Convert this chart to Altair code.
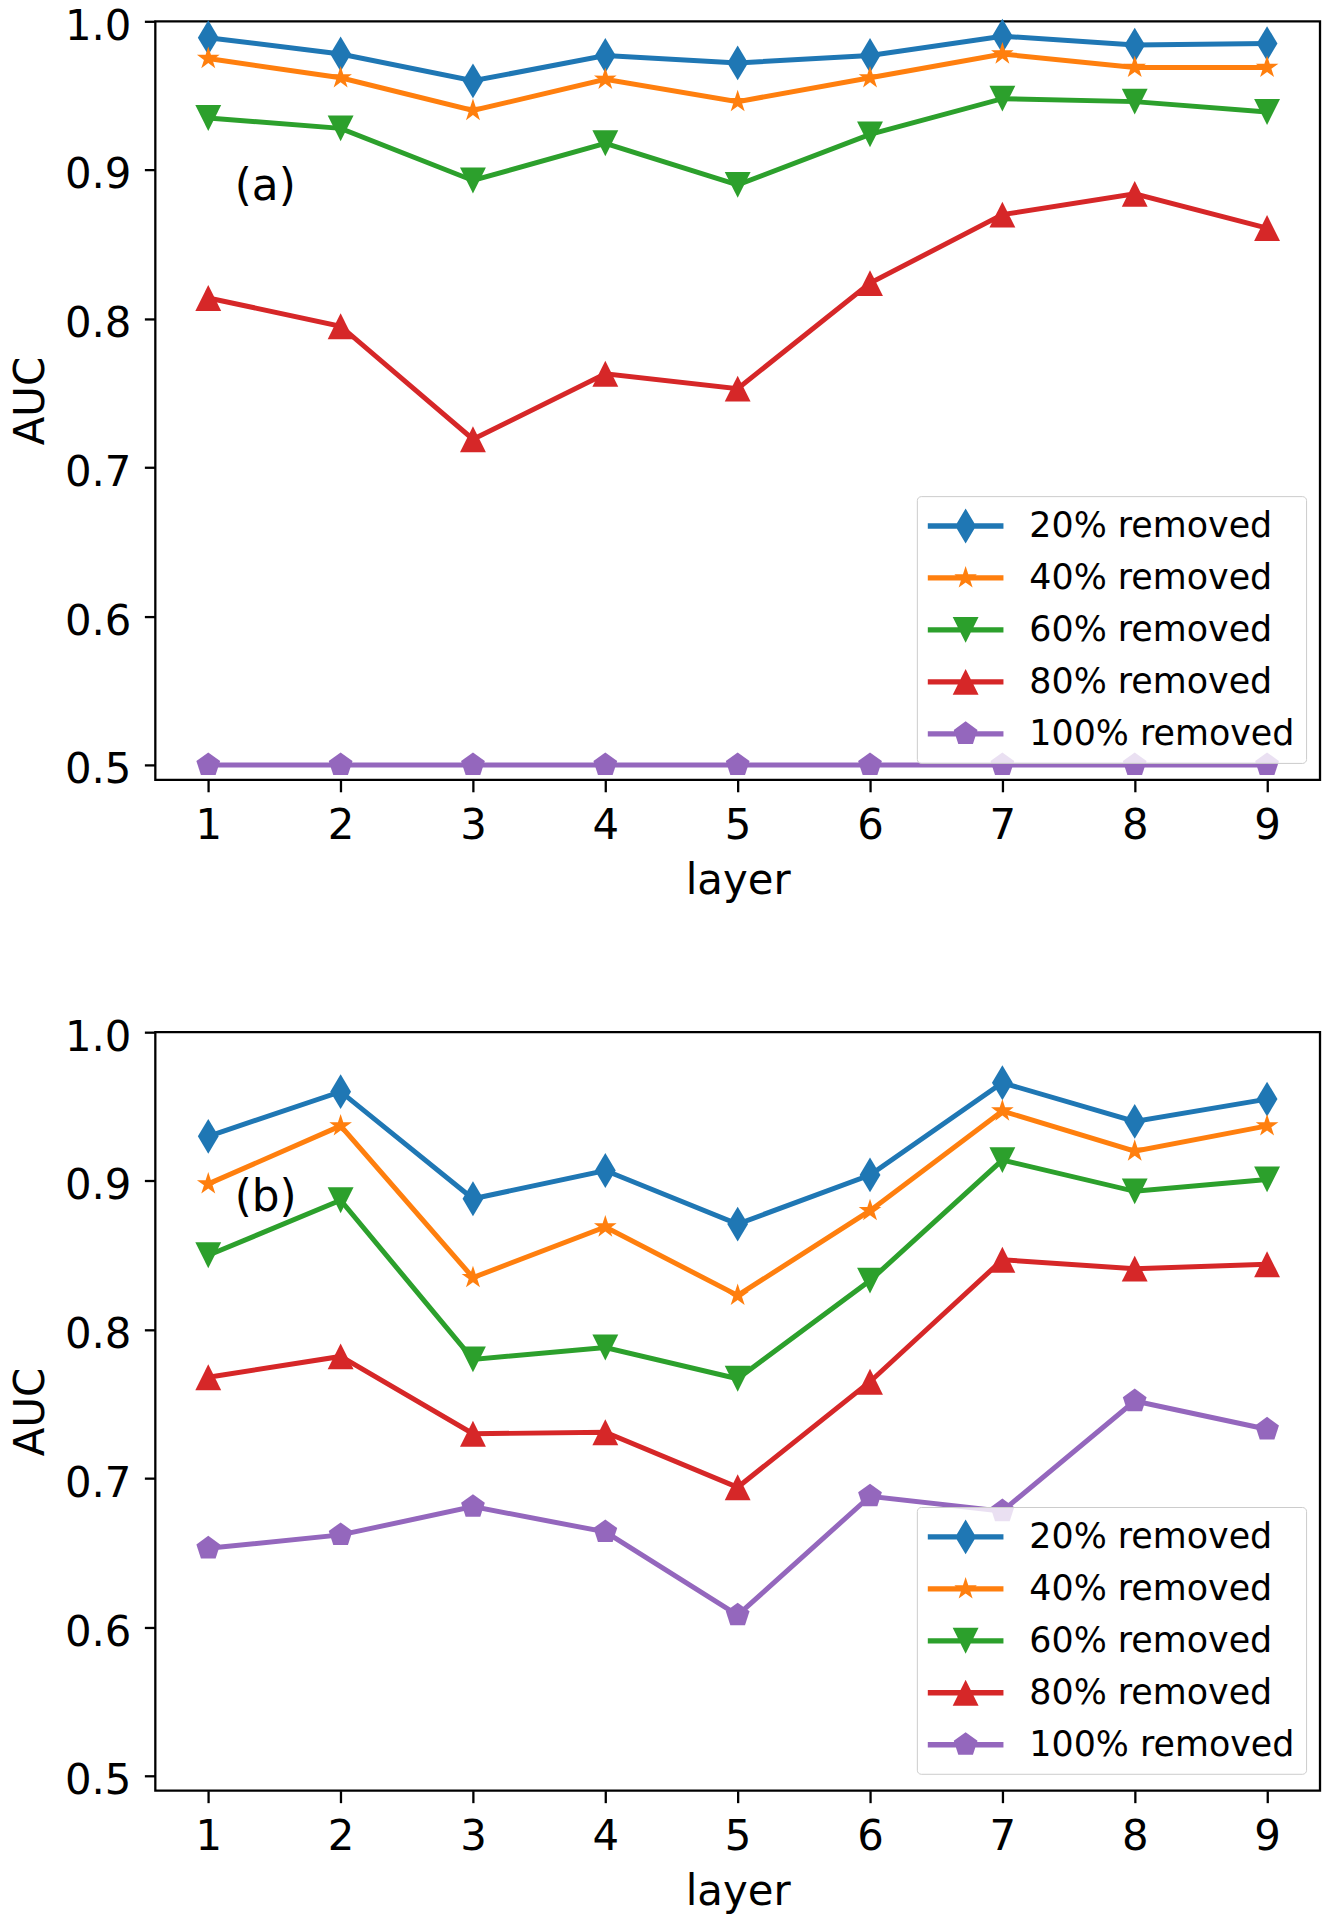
import math
import altair as alt
import pandas as pd

# ---------------- data ----------------
layers = [1, 2, 3, 4, 5, 6, 7, 8, 9]
series_names = ["20% removed", "40% removed", "60% removed", "80% removed", "100% removed"]
colors = ["#1f77b4", "#ff7f0e", "#2ca02c", "#d62728", "#9467bd"]
panel_tags = ["(a)", "(b)"]
y_ticks = [0.5, 0.6, 0.7, 0.8, 0.9, 1.0]

a_20 = [0.989, 0.978, 0.960, 0.977, 0.972, 0.977, 0.990, 0.984, 0.985]
a_40 = [0.975, 0.962, 0.940, 0.961, 0.946, 0.962, 0.978, 0.969, 0.969]
a_60 = [0.935, 0.928, 0.893, 0.918, 0.890, 0.924, 0.948, 0.946, 0.939]
a_80 = [0.814, 0.795, 0.719, 0.763, 0.753, 0.824, 0.870, 0.884, 0.861]
a_100 = [0.500, 0.500, 0.500, 0.500, 0.500, 0.500, 0.500, 0.500, 0.500]

b_20 = [0.930, 0.960, 0.888, 0.907, 0.871, 0.904, 0.966, 0.940, 0.955]
b_40 = [0.898, 0.937, 0.835, 0.869, 0.823, 0.880, 0.947, 0.920, 0.937]
b_60 = [0.850, 0.887, 0.780, 0.788, 0.767, 0.833, 0.914, 0.893, 0.901]
b_80 = [0.768, 0.782, 0.730, 0.731, 0.694, 0.765, 0.847, 0.841, 0.844]
b_100 = [0.653, 0.662, 0.681, 0.664, 0.608, 0.688, 0.678, 0.752, 0.733]

panel_a = [a_20, a_40, a_60, a_80, a_100]
panel_b = [b_20, b_40, b_60, b_80, b_100]


def to_frame(series_values):
    rows = []
    for name, vals in zip(series_names, series_values):
        for lx, v in zip(layers, vals):
            rows.append({"series": name, "layer": lx, "auc": v})
    return pd.DataFrame(rows)


# ---------------- marker shapes (unit = 19 px) ----------------
def poly(pts):
    return "M" + "L".join(f"{x:.3f},{y:.3f}" for x, y in pts) + "Z"


def star(R, r):
    pts = []
    for k in range(10):
        rho = R if k % 2 == 0 else r
        t = math.radians(36 * k)
        pts.append((rho * math.sin(t), -rho * math.cos(t)))
    return poly(pts)


def pentagon(r):
    pts = []
    for k in range(5):
        t = math.radians(72 * k)
        pts.append((r * math.sin(t), -r * math.cos(t)))
    return poly(pts)


diamond = poly([(0, -0.92), (0.55, 0), (0, 0.92), (-0.55, 0)])
star5 = star(0.63, 0.24)
tri_down = poly([(-0.684, -0.684), (0.684, -0.684), (0, 0.684)])
tri_up = poly([(0, -0.684), (0.684, 0.684), (-0.684, 0.684)])
penta = pentagon(0.66)
marker_paths = [diamond, star5, tri_down, tri_up, penta]
bar = poly([(-2, -0.14), (2, -0.14), (2, 0.14), (-2, 0.14)])
legend_paths = [bar + m for m in marker_paths]

FONT = "DejaVu Sans"
SIZE = 1444  # sqrt = 38 px -> 19 px per path unit
LINE_W = 5

x_enc = alt.X("layer:Q", title="layer",
              scale=alt.Scale(domain=[0.6, 9.4], nice=False, zero=False),
              axis=alt.Axis(values=layers, format="d", labelFlush=False))
y_enc = alt.Y("auc:Q", title="AUC",
              scale=alt.Scale(domain=[0.49, 1.0], nice=False, zero=False),
              axis=alt.Axis(values=y_ticks, format=".1f", labelFlush=False))

leg = alt.Legend(orient="none", legendX=765, legendY=477, padding=11,
                 symbolSize=SIZE, symbolStrokeWidth=0, symbolOpacity=1,
                 symbolOffset=19, labelOffset=45, labelFontSize=35, labelFont=FONT,
                 labelColor="black", labelLimit=500, rowPadding=15.2,
                 fillColor="rgba(255,255,255,0.8)", strokeColor="#cccccc",
                 cornerRadius=4)


def panel_chart(series_values, tag):
    data = to_frame(series_values)
    base = alt.Chart(data)
    parts = []
    for name, col, mpath in zip(series_names, colors, marker_paths):
        sub = base.transform_filter(alt.datum.series == name)
        parts.append(sub.mark_line(strokeWidth=LINE_W).encode(
            x=x_enc, y=y_enc, color=alt.value(col)))
        parts.append(sub.mark_point(shape=mpath, filled=True, size=SIZE,
                                    opacity=1, strokeWidth=0).encode(
            x=x_enc, y=y_enc, color=alt.value(col)))
    legend_layer = base.mark_point(filled=True, opacity=0, size=SIZE).encode(
        x=x_enc, y=y_enc,
        color=alt.Color("series:N", scale=alt.Scale(domain=series_names, range=colors),
                        legend=leg, title=None),
        shape=alt.Shape("series:N",
                        scale=alt.Scale(domain=series_names, range=legend_paths),
                        legend=leg, title=None))
    tag_df = pd.DataFrame({"layer": [1.2], "auc": [0.88], "label": [tag]})
    text = alt.Chart(tag_df).mark_text(align="left", baseline="alphabetic",
                                       fontSize=44, font=FONT, color="black").encode(
        x=x_enc, y=y_enc, text="label:N")
    return alt.layer(*parts, legend_layer, text).properties(width=1170, height=762)


chart = alt.vconcat(
    panel_chart(panel_a, panel_tags[0]),
    panel_chart(panel_b, panel_tags[1]),
    spacing=111.5,
).resolve_scale(color="independent", shape="independent").resolve_legend(
    color="independent", shape="independent"
).properties(
    padding={"left": 0, "top": -9, "right": 0, "bottom": 0}
).configure_view(
    stroke="black", strokeWidth=2.3
).configure_axis(
    domain=False, grid=False, tickColor="black", tickWidth=2.3,
    labelFont=FONT, titleFont=FONT, labelFontSize=42, titleFontSize=42,
    labelColor="black", titleColor="black", titleFontWeight="normal"
).configure_axisX(
    tickSize=12, labelPadding=14, titlePadding=14
).configure_axisY(
    tickSize=11, labelPadding=13.5, labelOffset=5, titlePadding=12.5
)

chart.save("out.html", embed_options={"renderer": "svg", "actions": False})
